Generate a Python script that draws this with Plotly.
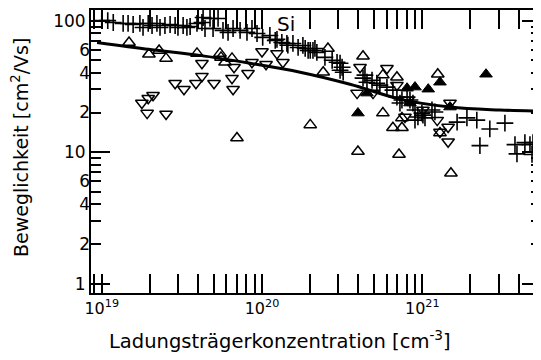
import plotly.graph_objects as go

# ---- data (carrier concentration [cm^-3], mobility [cm^2/Vs]) ----
cross_x = [1.0e19, 1.09e19, 1.18e19, 1.36e19, 1.46e19, 1.57e19, 1.73e19, 1.81e19, 1.95e19, 2.06e19,
           2.21e19, 2.31e19, 2.48e19, 2.67e19, 2.87e19, 2.99e19, 3.22e19, 3.40e19, 3.56e19, 3.93e19,
           4.22e19, 4.29e19, 4.41e19, 4.74e19, 4.95e19, 5.32e19, 5.71e19, 6.14e19, 6.60e19, 7.30e19,
           8.06e19, 8.66e19, 9.31e19, 1.01e20, 1.12e20, 1.21e20, 1.33e20, 1.43e20, 1.56e20, 1.68e20,
           1.86e20, 2.0e20, 2.14e20, 2.20e20, 1.80e20, 1.94e20, 2.08e20, 2.47e20, 2.74e20, 2.94e20,
           3.07e20, 3.16e20, 3.21e20, 4.39e20, 4.52e20, 4.86e20, 5.21e20, 6.02e20, 6.56e20, 6.95e20,
           7.26e20, 8.04e20, 8.38e20, 8.75e20, 9.01e20, 9.40e20, 9.95e20, 1.04e21, 1.20e21, 1.65e21,
           1.90e21, 2.19e21, 2.64e21, 3.28e21, 2.29e21, 3.79e21, 3.90e21, 4.37e21, 4.70e21, 4.84e21,
           4.91e21, 3.07e20, 4.27e20, 5.44e20, 7.47e20, 9.01e20, 1.01e21, 1.15e21, 1.24e20, 1.45e20]
cross_y = [100, 100, 96.7, 95.1, 95.1, 93.4, 95.1, 88.7, 95.1, 91.8,
           95.1, 88.7, 91.8, 93.4, 91.8, 88.7, 91.8, 88.7, 90.2, 95.1,
           96.7, 105.6, 87.1, 103.8, 87.1, 103.8, 84.2, 81.3, 87.1, 84.2,
           81.3, 87.1, 79.8, 74.5, 77.1, 70.7, 68.2, 67.0, 67.0, 62.5,
           61.4, 59.3, 61.4, 57.3, 64.7, 59.3, 59.3, 52.5, 49.9, 48.2,
           47.4, 44.2, 40.5, 38.5, 34.0, 35.2, 33.4, 31.2, 29.6, 26.2,
           23.6, 26.2, 24.9, 23.6, 20.9, 18.5, 19.8, 18.2, 20.2, 16.9,
           18.2, 17.5, 15.0, 16.6, 11.2, 11.4, 9.7, 11.8, 11.4, 9.6,
           11.8, 41.9, 36.5, 32.3, 24.9, 17.5, 19.1, 20.9, 72.0, 65.0]

up_x = [1.48e19, 1.97e19, 2.28e19, 2.52e19, 3.93e19, 5.47e19, 5.55e19, 6.50e19, 5.88e19, 6.98e19,
        2.0e20, 2.58e20, 2.41e20, 4.27e20, 5.68e20, 6.95e20, 1.25e21, 5.68e20, 6.56e20, 7.47e20,
        7.47e20, 3.97e20, 7.16e20, 1.51e21, 1.29e21]
up_y = [68.2, 55.4, 59.3, 51.6, 56.3, 56.3, 52.5, 51.6, 48.2, 12.8,
        16.1, 61.4, 40.5, 53.5, 38.5, 37.1, 39.1, 19.8, 15.3, 15.3,
        18.2, 10.1, 9.6, 6.9, 14.0]

down_x = [1.78e19, 1.92e19, 1.95e19, 2.09e19, 2.52e19, 2.87e19, 3.26e19, 3.87e19, 4.22e19, 4.22e19,
          5.02e19, 6.50e19, 6.60e19, 6.69e19, 8.18e19, 8.66e19, 1.0e20, 1.06e20, 1.24e20, 1.35e20,
          4.09e20, 6.02e20, 3.92e20, 4.93e20, 6.95e20, 1.01e21, 1.24e21, 1.29e21, 1.45e21, 1.45e21,
          7.80e20, 8.15e20, 1.49e21]
down_y = [23.6, 19.8, 25.7, 27.1, 19.5, 33.4, 30.1, 33.4, 37.8, 47.4,
          33.4, 36.5, 30.1, 44.2, 39.8, 48.2, 58.3, 46.5, 56.3, 48.2,
          44.2, 43.4, 28.1, 28.1, 32.3, 20.9, 17.5, 14.2, 15.5, 12.0,
          18.5, 24.9, 23.6]

filled_x = [4.52e20, 3.97e20, 8.04e20, 9.01e20, 1.09e21, 1.29e21, 2.50e21, 8.38e20, 1.49e21]
filled_y = [28.1, 19.8, 30.6, 31.2, 30.1, 34.0, 39.1, 23.6, 22.0]

fit_x = [9.35e18, 2.0e19, 4.1e19, 8.41e19, 1.73e20, 3.54e20, 7.26e20, 1.49e21, 3.05e21, 5.43e21]
fit_y = [68.2, 60.3, 54.4, 47.4, 40.5, 32.8, 25.3, 22.0, 20.9, 20.5]

x_major = [1e19, 1e20, 1e21]
x_major_text = ["10<sup>19</sup>", "10<sup>20</sup>", "10<sup>21</sup>"]
x_minor = [float(m) * 10.0 ** e for e in (18, 19, 20, 21) for m in range(2, 10)]

y_major = [1, 10, 100]
y_major_text = ["1", "10", "100"]
y_minor = [float(m) * 10.0 ** e for e in (0, 1) for m in range(2, 10)]
y_extra = [2, 4, 6, 20, 40, 60]
y_extra_text = ["2", "4", "6", "2", "4", "6"]

FONT = "DejaVu Sans"
fig = go.Figure()

fig.add_trace(go.Scatter(x=cross_x, y=cross_y, mode="markers",
                         marker=dict(symbol="cross-thin-open", size=12, color="black",
                                     line=dict(width=1.6, color="black"))))
fig.add_trace(go.Scatter(x=up_x, y=up_y, mode="markers",
                         marker=dict(symbol="triangle-up-open", size=11, color="black",
                                     line=dict(width=1.5, color="black"))))
fig.add_trace(go.Scatter(x=down_x, y=down_y, mode="markers",
                         marker=dict(symbol="triangle-down-open", size=11, color="black",
                                     line=dict(width=1.5, color="black"))))
fig.add_trace(go.Scatter(x=filled_x, y=filled_y, mode="markers",
                         marker=dict(symbol="triangle-up", size=11, color="black",
                                     line=dict(width=1, color="black"))))
fig.add_trace(go.Scatter(x=fit_x, y=fit_y, mode="lines", line=dict(color="black", width=3, shape="spline")))
# invisible trace to carry the secondary label axis
fig.add_trace(go.Scatter(x=[1e20], y=[10], yaxis="y2", mode="markers", marker=dict(opacity=0), hoverinfo="skip"))

# page body has an 8px default margin, so the figure is 533x352 with plot area at page (91..541, 10..293)
fig.update_layout(
    width=533, height=352,
    margin=dict(l=83, r=0, t=2, b=67, autoexpand=False),
    plot_bgcolor="white", paper_bgcolor="white",
    showlegend=False,
    font=dict(family=FONT, size=16, color="black"),
    xaxis=dict(type="log", range=[18.933, 21.741], showgrid=False, zeroline=False,
               showline=True, linecolor="black", linewidth=2, mirror="allticks",
               ticks="inside", ticklen=19, tickwidth=2, tickcolor="black",
               tickmode="array", tickvals=x_major, ticktext=x_major_text,
               tickfont=dict(size=16, family=FONT),
               minor=dict(tickmode="array", tickvals=x_minor, ticks="inside", ticklen=10,
                          tickwidth=2, tickcolor="black", showgrid=False)),
    yaxis=dict(type="log", range=[-0.0714, 2.0806], showgrid=False, zeroline=False,
               showline=True, linecolor="black", linewidth=2, mirror="allticks",
               ticks="inside", ticklen=19, tickwidth=2, tickcolor="black",
               tickmode="array", tickvals=y_major, ticktext=y_major_text,
               tickfont=dict(size=17, family=FONT),
               minor=dict(tickmode="array", tickvals=y_minor, ticks="inside", ticklen=10,
                          tickwidth=2, tickcolor="black", showgrid=False)),
    yaxis2=dict(type="log", range=[-0.0714, 2.0806], overlaying="y", side="left", anchor="x",
                showgrid=False, zeroline=False, showline=False, ticks="",
                tickmode="array", tickvals=y_extra, ticktext=y_extra_text,
                tickfont=dict(size=17, family=FONT)),
    annotations=[
        dict(text="Ladungsträgerkonzentration [cm<sup>-3</sup>]", xref="paper", yref="paper",
             x=(280 - 91) / 450, y=(293 - 340) / 283, xanchor="center", yanchor="middle",
             showarrow=False, font=dict(size=19.5, family=FONT)),
        dict(text="Beweglichkeit [cm<sup>2</sup>/Vs]", xref="paper", yref="paper",
             x=(20 - 91) / 450, y=(293 - 148) / 283, xanchor="center", yanchor="middle",
             textangle=-90, showarrow=False, font=dict(size=19, family=FONT)),
        dict(text="Si", xref="paper", yref="paper", x=(286 - 91) / 450, y=1 - (24 - 10) / 283,
             xanchor="center", yanchor="middle", showarrow=False, font=dict(size=20, family=FONT)),
    ],
)

fig.write_html("out.html")
